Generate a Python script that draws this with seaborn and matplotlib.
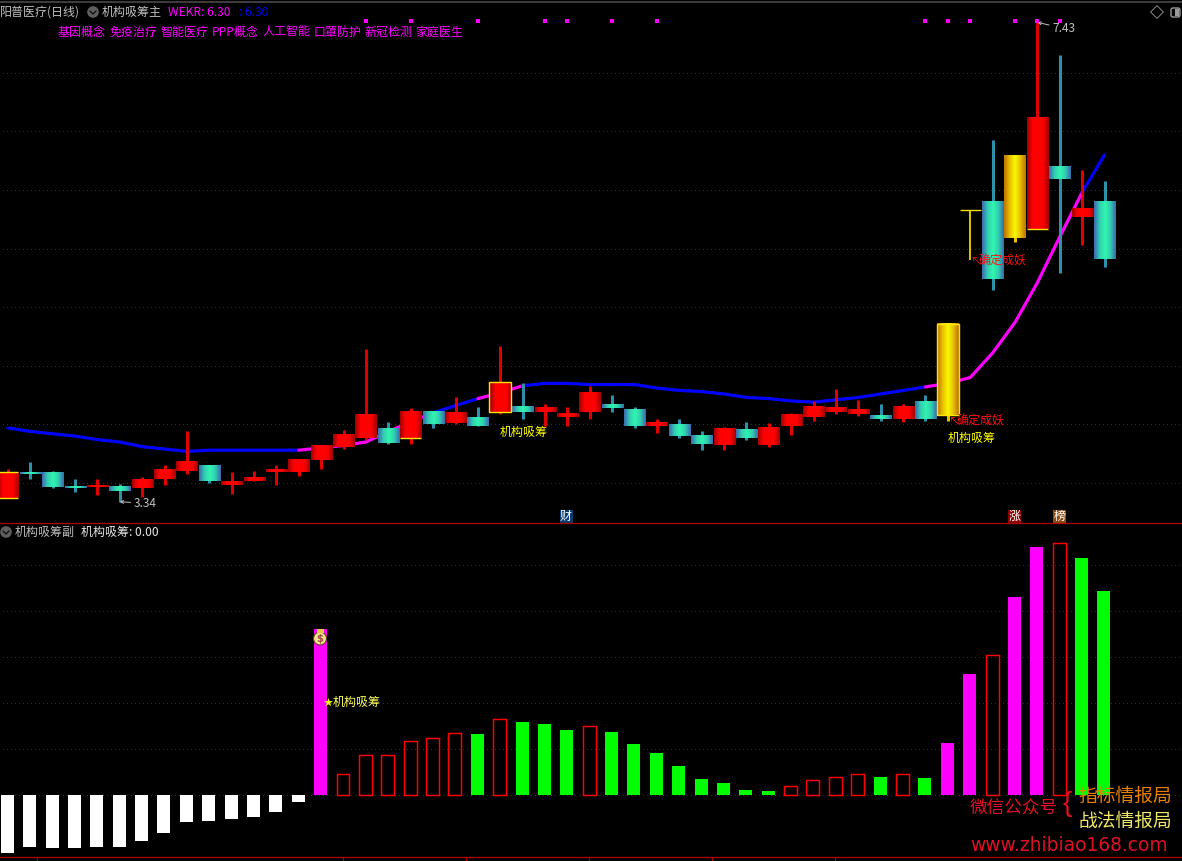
import numpy as np
import pandas as pd
import matplotlib
matplotlib.use("Agg")
import matplotlib.pyplot as plt
from matplotlib.colors import LinearSegmentedColormap
from matplotlib.patches import Circle, FancyBboxPatch, Rectangle
import seaborn as sns

# ---------------- data ----------------
opens = [3.37,3.59,3.59,3.47,3.47,3.47,3.46,3.53,3.60,3.65,3.48,3.52,3.59,3.59,3.70,3.81,3.88,3.96,3.88,4.11,
         4.01,4.06,4.11,4.16,4.11,4.06,4.11,4.17,4.13,3.99,4.00,3.90,3.82,3.95,3.82,3.99,4.06,4.11,4.09,4.08,
         4.05,4.20,4.08,5.83,5.90,5.59,5.67,6.20,5.77,5.90]
closes = [3.59,3.58,3.47,3.46,3.48,3.43,3.53,3.61,3.68,3.52,3.51,3.55,3.61,3.70,3.82,3.92,4.08,3.84,4.11,4.00,
          4.10,3.99,4.36,4.11,4.15,4.09,4.28,4.14,3.99,4.02,3.90,3.83,3.96,3.88,3.97,4.09,4.15,4.15,4.13,4.05,
          4.16,4.05,4.86,5.83,5.24,6.29,6.62,6.09,5.84,5.41]
highs = [3.62,3.68,3.60,3.53,3.53,3.49,3.55,3.65,3.94,3.65,3.59,3.60,3.65,3.70,3.82,3.95,4.64,4.02,4.14,4.11,
         4.23,4.15,4.67,4.35,4.17,4.15,4.33,4.25,4.15,4.05,4.05,3.94,3.98,4.02,4.01,4.10,4.20,4.30,4.21,4.17,
         4.17,4.25,4.86,5.83,6.43,6.29,7.43,7.15,6.17,6.08]
lows = [3.37,3.53,3.46,3.42,3.40,3.34,3.38,3.48,3.58,3.50,3.41,3.52,3.48,3.56,3.62,3.79,3.87,3.83,3.83,3.97,
        4.00,3.99,4.09,4.05,3.99,3.99,4.05,4.11,3.97,3.93,3.88,3.78,3.78,3.87,3.81,3.91,4.03,4.09,4.07,4.03,
        4.02,4.03,4.03,5.40,5.15,5.56,5.67,5.29,5.53,5.34]
ma_line = [3.97,3.94,3.92,3.90,3.87,3.85,3.81,3.79,3.77,3.78,3.78,3.78,3.78,3.78,3.80,3.82,3.85,3.94,4.02,4.10,
           4.16,4.22,4.27,4.33,4.35,4.35,4.34,4.34,4.34,4.31,4.29,4.28,4.26,4.23,4.22,4.20,4.19,4.21,4.23,4.26,
           4.29,4.32,4.35,4.40,4.61,4.87,5.21,5.60,5.98,6.30]
ma_rising_runs = [(13, 19), (21, 23), (41, 48)]
gold_days = [42, 43, 45]
boxed_days = [22, 42]
yellow_top_days = [0]
yellow_bottom_days = [0, 18, 46]
signal_dots = [16, 18, 21, 24, 25, 27, 29, 41, 42, 43, 45, 46, 47]
signal_level = 7.44
price_grid = [3.5, 4.0, 4.5, 5.0, 5.5, 6.0, 6.5, 7.0]

sub_values = [-12.5,-11.4,-11.6,-11.6,-11.4,-11.2,-10.1,-8.2,-5.8,-5.6,-5.3,-4.7,-3.6,-1.6,36.0,
              4.6,8.7,8.7,11.8,12.4,13.5,13.2,16.5,15.9,15.4,14.1,14.9,13.7,11.1,9.1,
              6.3,3.5,2.6,1.1,0.9,1.9,3.2,4.0,4.5,4.0,4.5,3.8,11.2,26.2,30.5,
              43.0,53.9,54.7,51.5,44.3]
sub_kinds = ["white"]*14 + ["magenta"] + ["hollow"]*6 + ["green","hollow","green","green","green","hollow"] + \
            ["green"]*8 + ["hollow"]*4 + ["green","hollow","green","magenta","magenta","hollow",
             "magenta","magenta","hollow","green","green"]
sub_grid = [0, 10, 20, 30, 40, 50]
concepts = ["基因概念", "免疫治疗", "智能医疗", "PPP概念", "人工智能", "口罩防护", "新冠检测", "家庭医生"]
bottom_ticks_px = [37, 343, 466, 589, 712, 835]

# ---------------- figure ----------------
sns.set_theme(style="dark", rc={"axes.facecolor": "black", "figure.facecolor": "black",
                                "savefig.facecolor": "black", "axes.grid": False})
plt.rcParams["font.family"] = ["Noto Sans CJK SC", "DejaVu Sans"]
W, H = 1182, 861
fig = plt.figure(figsize=(W/100, H/100), dpi=100)

def rect(top, bottom):
    return [0, 1 - bottom/H, 1, (bottom - top)/H]

ax1 = fig.add_axes(rect(4, 523))
ax2 = fig.add_axes(rect(524, 857))
top = fig.add_axes([0, 0, 1, 1], zorder=5)
top.patch.set_alpha(0)
top.set_xlim(0, W); top.set_ylim(H, 0); top.axis("off")

n = len(opens)
idx = np.arange(n)
STEP = 22.38
XLIM = (-7.3/STEP, (W - 7.3)/STEP)
XLIM1 = (-7.9/STEP, (W - 7.9)/STEP)

cm_red = LinearSegmentedColormap.from_list("r", ["#a80000", "#ff0000", "#ff0000", "#ff0000", "#a80000"])
cm_teal = LinearSegmentedColormap.from_list("t", ["#3a70b0", "#30d0b0", "#30f5b0", "#30d0b0", "#3a70b0"])
cm_gold = LinearSegmentedColormap.from_list("g", ["#c07800", "#e8c000", "#f8f800", "#e8c000", "#c07800"])
grad = np.linspace(0, 1, 21)[None, :]
BODY = 0.94

def dotted(ax, v):
    ln = ax.axhline(v, xmin=3/W, color="#a00000", lw=0.72, ls=(0, (1, 3)), zorder=1)
    ln.set_antialiased(False)

for v in price_grid:
    dotted(ax1, v)

start = 0
segments = []
for a, b in sorted(ma_rising_runs):
    if a > start:
        segments.append((start, a, "#0000ff"))
    segments.append((a, b, "#ff00ff"))
    start = b
if start < n - 1:
    segments.append((start, n - 1, "#0000ff"))
for a, b, c in segments:
    sns.lineplot(x=idx[a:b+1], y=ma_line[a:b+1], color=c, lw=2.3, ax=ax1, estimator=None, sort=False,
                 legend=False, zorder=2)

for i in range(n):
    o, c, h, l = opens[i], closes[i], highs[i], lows[i]
    if i in gold_days:
        cmap, wick = cm_gold, "#e8c000"
    elif c > o:
        cmap, wick = cm_red, "#e00000"
    else:
        cmap, wick = cm_teal, "#2f90aa"
    if o == c:
        ax1.vlines(i, l, h, color="#ffe800", lw=1.2, zorder=3)
        ax1.hlines(o, i - BODY/2, i + BODY/2, color="#f0e000", lw=1.0, zorder=4)
    else:
        ax1.vlines(i, l, h, color=wick, lw=2.2, zorder=3)
        ax1.imshow(grad, cmap=cmap, aspect="auto", zorder=4, interpolation="bilinear",
                   extent=(i - BODY/2, i + BODY/2, min(o, c), max(o, c)))
for i in boxed_days:
    ax1.bar(i, abs(closes[i]-opens[i]), bottom=min(opens[i], closes[i]), width=0.98, fill=False,
            edgecolor="#ffe800", lw=1.0, zorder=5)
for i in yellow_top_days:
    ax1.hlines(max(opens[i], closes[i]), i-BODY/2, i+BODY/2, color="#ffe800", lw=1.0, zorder=5)
for i in yellow_bottom_days:
    ax1.hlines(min(opens[i], closes[i]), i-BODY/2, i+BODY/2, color="#ffe800", lw=1.0, zorder=5)
ax1.scatter(signal_dots, [signal_level]*len(signal_dots), marker="s", s=6, color="#ff00ff", linewidths=0, zorder=6)

# high / low labels
imax = int(np.argmax(highs)); imin = int(np.argmin(lows))
ax1.annotate(f"{highs[imax]:.2f}", xy=(imax, highs[imax]), xytext=(15, -6), textcoords="offset pixels",
             color="#c0c0c0", fontsize=8.6, va="center", ha="left",
             arrowprops=dict(arrowstyle="->", color="#c0c0c0", lw=0.7, shrinkA=0, shrinkB=0, mutation_scale=5))
ax1.annotate(f"{lows[imin]:.2f}", xy=(imin, lows[imin]), xytext=(14, -1.5), textcoords="offset pixels",
             color="#c0c0c0", fontsize=8.6, va="center", ha="left",
             arrowprops=dict(arrowstyle="->", color="#c0c0c0", lw=0.7, shrinkA=0, shrinkB=0, mutation_scale=5))

ax1.set_xlim(*XLIM1)
ax1.set_ylim(3.5 - (523-483)*0.008532, 3.5 + (483-4)*0.008532)
ax1.set_xticks([]); ax1.set_yticks([])
ax1.set_xlabel(""); ax1.set_ylabel("")

# ---------------- lower panel ----------------
df = pd.DataFrame({"i": idx, "v": sub_values, "kind": sub_kinds})
order = ["white", "magenta", "green", "hollow"]
pal = {"white": "#ffffff", "magenta": "#ff00ff", "green": "#00ff00", "hollow": "#000000"}
sns.barplot(data=df, x="i", y="v", hue="kind", hue_order=order, palette=pal, dodge=False, native_scale=True,
            width=0.58, saturation=1, legend=False, errorbar=None, ax=ax2, zorder=3)
for cont, k in zip(ax2.containers, order):
    for p in cont:
        if k == "hollow":
            p.set(facecolor="none", edgecolor="#ff0000", linewidth=1.05)
        else:
            p.set(linewidth=0)
for v in sub_grid:
    dotted(ax2, v)
ax2.set_xlim(*XLIM)
ax2.set_ylim((795-857)/4.6, (795-524)/4.6)
ax2.set_xticks([]); ax2.set_yticks([])
ax2.set_xlabel(""); ax2.set_ylabel("")
for a in (ax1, ax2):
    for s in a.spines.values():
        s.set_visible(False)

# ---------------- chrome in pixel coordinates ----------------
def T(x, y, s, color, size=8.64, **kw):
    kw.setdefault("va", "center")
    kw.setdefault("ha", "left")
    top.text(x, y, s, color=color, fontsize=size, **kw)

top.plot([0, W], [1.5, 1.5], color="#3c3c3c", lw=1.5, solid_capstyle="butt")
top.plot([0, W], [523, 523], color="#b00000", lw=0.9)
top.plot([0, W], [857, 857], color="#b00000", lw=0.9)
for x in bottom_ticks_px:
    top.plot([x, x], [857, 861], color="#b00000", lw=0.8)

def chevron(cx, cy):
    top.add_patch(Circle((cx, cy), 5.8, color="#5f5f5f", lw=0))
    top.plot([cx-3, cx, cx+3], [cy-1, cy+2, cy-1], color="#111111", lw=1.0)

T(0, 12, "阳普医疗(日线)", "#c0c0c0")
chevron(93, 12)
T(102, 12, "机构吸筹主", "#c0c0c0")
T(168, 12, "WEKR: 6.30", "#ff00ff")
T(239, 12, ": 6.30", "#0000e8")
for k, word in enumerate(concepts):
    T(58 + 51.1*k, 32, word, "#ff00ff")
top.scatter([1157], [12], marker="D", s=42, facecolors="none", edgecolors="#8a8a8a", linewidths=0.7)
top.add_patch(FancyBboxPatch((1171, 8), 9, 9, boxstyle="round,pad=0,rounding_size=2", fc="none", ec="#9a9a9a", lw=1))
top.add_patch(Rectangle((1175, 9), 4, 7, color="#9a9a9a", lw=0))

T(500, 432.5, "机构吸筹", "#ffff00")
T(948, 438.5, "机构吸筹", "#ffff00")
T(948, 421, "↖", "#ff1010", size=8)
T(957, 421, "确定成妖", "#ff1010")
T(970, 261, "↖", "#ff1010", size=8)
T(979, 261, "确定成妖", "#ff1010")

def badge(cx, s, bg):
    top.add_patch(Rectangle((cx-6.5, 509.5), 13, 13, color=bg, lw=0))
    T(cx, 516, s, "#ffffff", ha="center")
badge(566, "财", "#0a3d6e")
badge(1014.5, "涨", "#8a0000")
badge(1059.5, "榜", "#8a4a10")

chevron(6, 532)
T(15, 532.5, "机构吸筹副", "#c0c0c0")
T(81, 532.5, "机构吸筹: 0.00", "#e8e8e8")
top.scatter([328], [702], marker="*", s=45, color="#ffff00", linewidths=0)
T(333, 702.5, "机构吸筹", "#ffff60")
# money bag sign
top.add_patch(Circle((320, 638.5), 6.5, fc="#f6e08a", ec="#5a4a20", lw=0.8))
top.add_patch(Rectangle((316.5, 629), 7, 3.5, color="#e8c840", lw=0))
T(320, 638.5, "$", "#9a4a4a", size=7, ha="center", family="DejaVu Sans", weight="bold")

T(970, 808.5, "微信公众号", "#e01025", size=12.7)
T(1078, 796.5, "指标情报局", "#e88000", size=13.5)
T(1078.5, 821.5, "战法情报局", "#f0e868", size=13.5)
T(1063, 804, "{", "#e01025", size=20, family="Liberation Sans", weight="light")
T(970, 845.5, "www.zhibiao168.com", "#e01025", size=13.4, family="DejaVu Sans")

fig.savefig("out.png", dpi=100)
